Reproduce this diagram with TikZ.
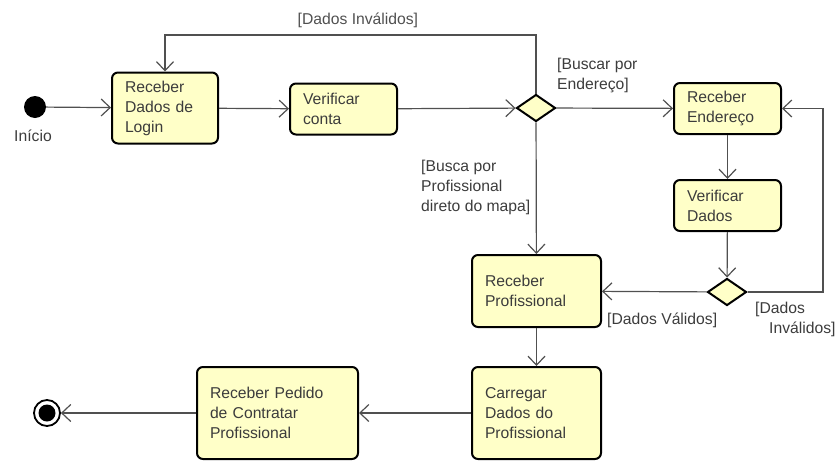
\documentclass[tikz,border=0pt]{standalone}
\usepackage{fontspec}
\setmainfont{Liberation Sans}
\usetikzlibrary{arrows.meta,shapes.geometric,positioning}
\definecolor{actfill}{HTML}{FFFFC8}
\definecolor{txtgray}{HTML}{3C3C3C}
\definecolor{linegray}{HTML}{505050}
\begin{document}
\begin{tikzpicture}
[x=1pt, y=1pt, node distance=97pt, font=\fontsize{15.7}{20}\selectfont, text=txtgray]
\tikzstyle{action}=[rectangle, rounded corners=6pt, draw=black, line width=2pt, fill=actfill, align=left, inner xsep=13pt, inner ysep=0pt]
\tikzstyle{decision}=[diamond, draw=black, line width=2pt, fill=actfill, minimum width=39pt, minimum height=27pt, inner sep=0pt]
\tikzstyle{start}=[circle, fill=black, minimum size=22pt, inner sep=0pt]
\tikzstyle{final}=[circle, draw=black, line width=1.8pt, minimum size=26pt, inner sep=0pt, path picture={\fill[black] (path picture bounding box.center) circle (8.5pt);}]
\tikzstyle{flow}=[linegray, line width=1.2pt, -{Straight Barb[length=9pt, width=17pt]}]
\tikzstyle{guard}=[align=left, inner sep=0pt]
\useasboundingbox (0,0) rectangle (837,-461);

\node[start]	(inicio)	at (35,-107) [label={[label distance=8pt, xshift=-2pt]below:Início}] {};
\node[action, text width=80pt, minimum height=71pt]	(login)	at (165,-108)	{Receber\\Dados de\\Login};
\node[action, text width=81pt, minimum height=51pt]	(conta)	at (343.5,-109)	{Verificar\\conta};
\node[decision]	(d1)	at (536,-108)	{};
\node[action, text width=81pt, minimum height=51pt]	(endereco)	at (727.5,-108.5)	{Receber\\Endereço};
\node[action, text width=81pt, minimum height=51pt]	(verdados)	[below of=endereco]	{Verificar\\Dados};
\node[decision]	(d2)	at (727,-292)	{};
\node[action, text width=103pt, minimum height=72pt]	(prof)	at (536.5,-291)	{Receber\\Profissional};
\node[action, text width=103pt, minimum height=92pt]	(carregar)	[below of=prof, node distance=122pt]	{Carregar\\Dados do\\Profissional};
\node[action, text width=135pt, minimum height=92pt]	(pedido)	at (277.5,-413)	{Receber Pedido\\de Contratar\\Profissional};
\node[final]	(fim)	at (47,-413)	{};

\coordinate (topL) at (165,-35);
\coordinate (rB) at (823,-292);

\draw[flow] (inicio) -- (login);
\draw[flow] (login) -- (conta);
\draw[flow] (conta) -- (d1);
\draw[flow] (d1) -- (endereco);
\draw[flow] (d1.north) |- node[guard, pos=0.74, above=7pt] {[Dados Inválidos]} (topL) -- (login.north);
\draw[flow] (d1) -- (prof);
\draw[flow] (endereco) -- (verdados);
\draw[flow] (verdados) -- (d2);
\draw[flow] (d2) -- (prof);
\draw[flow] (d2.east) -- (rB) |- (endereco.east);
\draw[flow] (prof) -- (carregar);
\draw[flow] (carregar) -- (pedido);
\draw[flow] (pedido) -- (fim);

\node[guard, anchor=west]	(gEnd)	at (557,-75)	{[Buscar por\\Endereço]};
\node[guard, anchor=west]	(gMapa)	at (421,-187)	{[Busca por\\Profissional\\direto do mapa]};
\node[guard, anchor=west]	(gValidos)	at (607,-320)	{[Dados Válidos]};
\node[guard, anchor=west]	(gInvalidos)	at (755,-319)	{[Dados\\\hspace*{14pt}Inválidos]};
\end{tikzpicture}
\end{document}
